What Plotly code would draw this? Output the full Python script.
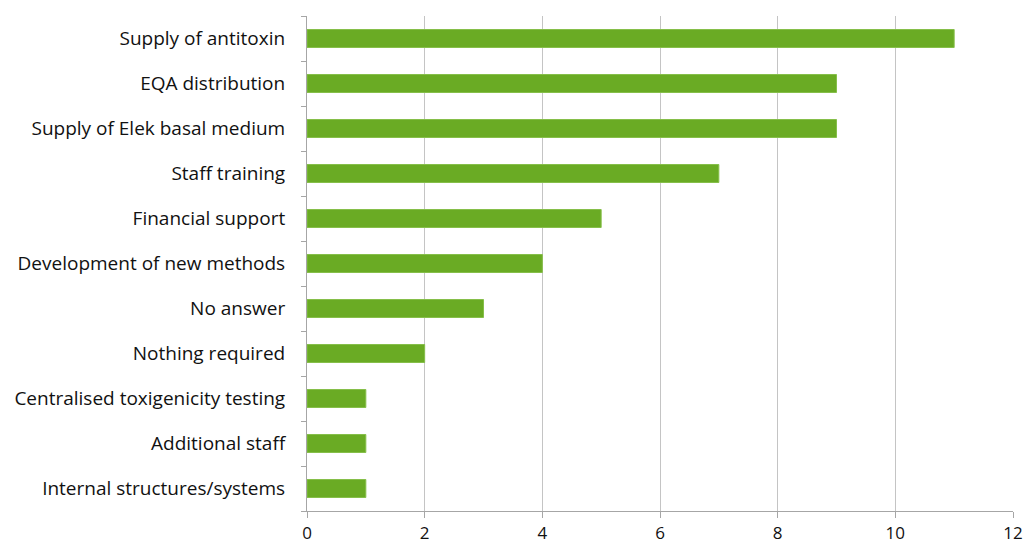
import plotly.graph_objects as go

categories = [
    "Supply of antitoxin",
    "EQA distribution",
    "Supply of Elek basal medium",
    "Staff training",
    "Financial support",
    "Development of new methods",
    "No answer",
    "Nothing required",
    "Centralised toxigenicity testing",
    "Additional staff",
    "Internal structures/systems",
]
counts = [11, 9, 9, 7, 5, 4, 3, 2, 1, 1, 1]
x_ticks = [0, 2, 4, 6, 8, 10, 12]

fig = go.Figure(
    go.Bar(
        x=counts,
        y=categories,
        orientation="h",
        marker=dict(color="#6aab24", line=dict(color="#86bf4a", width=1)),
        hoverinfo="x+y",
    )
)

axis_grey = "#a6a6a6"
fig.update_layout(
    width=1023,
    height=543,
    margin=dict(l=307, r=10, t=16, b=32, autoexpand=False),
    paper_bgcolor="white",
    plot_bgcolor="white",
    bargap=0.6,
    showlegend=False,
    font=dict(family="Open Sans, sans-serif", size=19, color="#111111"),
)
fig.update_xaxes(
    range=[0, 12],
    tickvals=x_ticks,
    showgrid=True,
    gridcolor="#c4c4c4",
    gridwidth=1,
    zeroline=False,
    showline=True,
    linecolor=axis_grey,
    linewidth=1,
    ticks="outside",
    ticklen=6,
    tickcolor=axis_grey,
    ticklabelstandoff=1,
    tickfont=dict(size=17),
    automargin=False,
    fixedrange=True,
)
fig.update_yaxes(
    categoryorder="array",
    categoryarray=categories[::-1],
    autorange=False,
    range=[-0.5, len(categories) - 0.5],
    showline=True,
    linecolor=axis_grey,
    linewidth=1,
    ticks="outside",
    tickson="boundaries",
    ticklen=5,
    tickcolor=axis_grey,
    ticklabelstandoff=17,
    showgrid=False,
    automargin=False,
    fixedrange=True,
)

fig.write_html("out.html")
